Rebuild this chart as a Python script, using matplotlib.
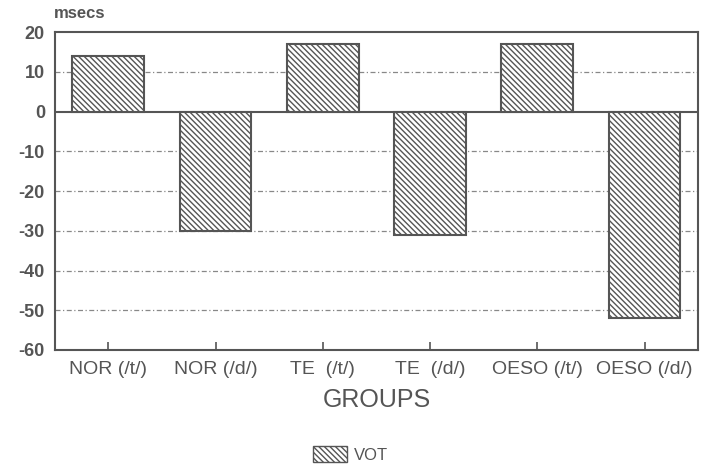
import matplotlib
matplotlib.use("Agg")
import matplotlib.pyplot as plt
from matplotlib.patches import Patch

categories = ["NOR (/t/)", "NOR (/d/)", "TE  (/t/)", "TE  (/d/)", "OESO (/t/)", "OESO (/d/)"]
vot = [14, -30, 17, -31, 17, -52]
yticks = [20, 10, 0, -10, -20, -30, -40, -50, -60]

ink = "#555555"
hatch = "\\" * 6
plt.rcParams['hatch.color'] = ink
plt.rcParams['hatch.linewidth'] = 1.0
plt.rcParams['font.family'] = ['Liberation Sans', 'DejaVu Sans']

fig = plt.figure(figsize=(7.01, 4.66), dpi=100)
ax = fig.add_axes([0.078, 0.249, 0.918, 0.682])

x = list(range(len(categories)))
ax.bar(x, vot, width=0.67, facecolor="white", edgecolor=ink, hatch=hatch, linewidth=1.5, zorder=3)

ax.set_xlim(-0.5, 5.5)
ax.set_ylim(-60, 20)
ax.set_yticks(yticks)
ax.set_yticklabels([str(v) for v in yticks], fontsize=13, fontweight="bold", color=ink)
ax.set_xticks(x)
ax.set_xticklabels(categories, fontsize=14, color=ink)
ax.tick_params(axis='y', length=0, pad=7)
ax.tick_params(axis='x', direction='in', length=6, color=ink, width=1.2, pad=8)

for v in yticks:
    if v == 0:
        ax.axhline(0, color=ink, linewidth=1.5, zorder=2)
    elif v not in (20, -60):
        ax.axhline(v, color="#888888", linewidth=0.9, linestyle=(0, (4, 2, 1, 2)), zorder=1)

for s in ax.spines.values():
    s.set_color(ink)
    s.set_linewidth(1.5)

ax.set_xlabel("GROUPS", fontsize=18, color=ink, labelpad=7)
fig.text(0.077, 0.97, "msecs", fontsize=12, fontweight="bold", color=ink, ha="left", va="center")

handle = Patch(facecolor="white", edgecolor=ink, hatch=hatch, label="VOT")
fig.legend(handles=[handle], loc="center", bbox_to_anchor=(0.5, 0.025), frameon=False,
           fontsize=12, labelcolor=ink, handlelength=2.0, handleheight=1.1, handletextpad=0.4)

fig.savefig("out.png", dpi=100)
